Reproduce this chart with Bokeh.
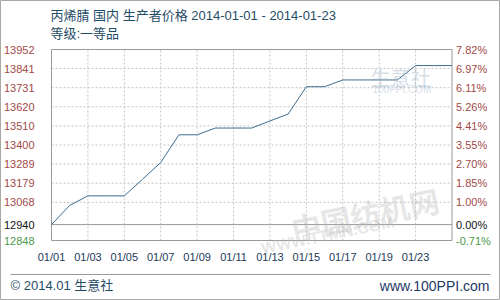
from bokeh.plotting import figure
from bokeh.models import (Range1d, FixedTicker, Label, LabelSet, LinearAxis,
                          ColumnDataSource, BoxAnnotation)
from bokeh.core.properties import value
from bokeh.embed import file_html
from bokeh.resources import INLINE

# ---------------- data ----------------
point_idx = list(range(23))
prices = [12940, 13051, 13106, 13106, 13106, 13202, 13299, 13459, 13459,
          13498, 13498, 13498, 13539, 13579, 13737, 13737, 13776, 13776,
          13776, 13776, 13859, 13859, 13859]

x_tick_pos = [0, 2, 4, 6, 8, 10, 12, 14, 16, 18, 20]
x_tick_labels = ["01/01", "01/03", "01/05", "01/07", "01/09", "01/11",
                 "01/13", "01/15", "01/17", "01/19", "01/23"]

y_tick_vals = [13952, 13841.6, 13731.2, 13620.8, 13510.4, 13400, 13289.6,
               13179.2, 13068.8, 12940, 12848]
y_tick_labels = ["13952", "13841", "13731", "13620", "13510", "13400",
                 "13289", "13179", "13068", "12940", "12848"]
pct_labels = ["7.82%", "6.97%", "6.11%", "5.26%", "4.41%", "3.55%", "2.70%",
              "1.85%", "1.00%", "0.00%", "-0.71%"]
base_price = 12940
x_first, x_last = 0, 22
y_low, y_high = 12848, 13952

title1 = "丙烯腈 国内 生产者价格 2014-01-01 - 2014-01-23"
title2 = "等级:一等品"
footer_left = "© 2014.01 生意社"
footer_right = "www.100PPI.com"

# ---------------- styles ----------------
RED = "#a24a48"
GREEN = "#4e9a4e"
BLACK = "#111111"
TEAL = "#1f4d66"
GRID = "#c4c4c4"
BORDER = "#9a9a9a"
FONT = "'Liberation Sans', 'Noto Sans CJK SC'"

# plot box in pixels: left 51, right 451.5, top 49, bottom 240 (canvas 500x300)
xs = (451.5 - 51) / (x_last - x_first)
ys = (240 - 49) / (y_high - y_low)
x_range = Range1d(x_first - 51 / xs, x_last + (500 - 451.5) / xs)
y_range = Range1d(y_low - 60 / ys, y_high + 49 / ys)

p = figure(width=500, height=300, output_backend="svg", toolbar_location=None,
           x_range=x_range, y_range=y_range, x_axis_location=None,
           y_axis_location=None, min_border=0)
p.background_fill_color = "white"
p.border_fill_color = "white"
p.outline_line_color = "#a8a8a8"
p.xgrid.visible = False
p.ygrid.visible = False

# watermarks
p.add_layout(Label(x=370, y=223, x_units="screen", y_units="screen",
                   text="生意社", text_font="Noto Sans CJK SC",
                   text_font_size="20px", text_color="#9fb4c8", text_alpha=0.45,
                   text_baseline="middle"))
p.add_layout(Label(x=372, y=211, x_units="screen", y_units="screen",
                   text="100PPI.COM", text_font="Liberation Sans",
                   text_font_size="10px", text_color="#9fb4c8", text_alpha=0.45,
                   text_baseline="middle"))
p.add_layout(Label(x=291, y=72, x_units="screen", y_units="screen",
                   text="中国纺机网", text_font="Noto Sans CJK SC",
                   text_font_size="30px", text_color="#b8b8b8", text_alpha=0.35,
                   text_font_style="bold", angle=0.2, text_baseline="middle"))
p.add_layout(Label(x=261, y=52, x_units="screen", y_units="screen",
                   text="WWW.TTMN.COM", text_font="Liberation Sans",
                   text_font_size="16px", text_color="#b8b8b8", text_alpha=0.35,
                   text_font_style="bold", angle=0.2, text_baseline="middle"))

# grid lines (dotted) inside the plot box
p.segment(x0=x_tick_pos[1:], x1=x_tick_pos[1:], y0=y_low, y1=y_high,
          line_color=GRID, line_dash="2 2", line_width=1)
p.segment(x0=x_first, x1=x_last, y0=y_tick_vals[1:9], y1=y_tick_vals[1:9],
          line_color=GRID, line_dash="2 2", line_width=1)
# baseline
p.segment(x0=[x_first], x1=[x_last], y0=[base_price], y1=[base_price],
          line_color=BORDER, line_width=1)
# plot box
p.quad(left=[x_first], right=[x_last], bottom=[y_low], top=[y_high],
       fill_color=None, line_color=BORDER, line_width=1)

# price line
src = ColumnDataSource(dict(x=point_idx, y=prices))
p.line("x", "y", source=src, line_color="#3e6d8c", line_width=1)

# x axis (dates) fixed at the bottom of the plot box
xa = LinearAxis(fixed_location=y_low, ticker=FixedTicker(ticks=x_tick_pos))
xa.major_label_overrides = {t: l for t, l in zip(x_tick_pos, x_tick_labels)}
xa.axis_line_color = None
xa.major_tick_line_color = None
xa.minor_tick_line_color = None
xa.major_tick_out = 0
xa.major_tick_in = 0
xa.minor_tick_out = 0
xa.major_label_standoff = 10
xa.major_label_text_font = FONT
xa.major_label_text_font_size = "11px"
xa.major_label_text_color = "#1d3a58"
p.add_layout(xa, "below")

# y tick labels (left: price, right: percent change)
label_colors = [RED] * 9 + [BLACK, GREEN]
lsrc = ColumnDataSource(dict(
    y=y_tick_vals, xl=[x_first] * len(y_tick_vals), xr=[x_last] * len(y_tick_vals),
    tl=y_tick_labels, tr=pct_labels, c=label_colors))
p.add_layout(LabelSet(x="xl", y="y", text="tl", source=lsrc, x_offset=-17,
                      text_color="c", text_font=value(FONT),
                      text_font_size="11px", text_baseline="middle",
                      text_align="right"))
p.add_layout(LabelSet(x="xr", y="y", text="tr", source=lsrc, x_offset=4,
                      text_color="c", text_font=value(FONT),
                      text_font_size="11px", text_baseline="middle",
                      text_align="left"))

# titles
p.add_layout(Label(x=50, y=285, x_units="screen", y_units="screen",
                   text=title1, text_font=FONT, text_font_size="13px",
                   text_color=TEAL, text_baseline="middle"))
p.add_layout(Label(x=50, y=267, x_units="screen", y_units="screen",
                   text=title2, text_font=FONT, text_font_size="13px",
                   text_color=TEAL, text_baseline="middle"))

# footer
p.add_layout(BoxAnnotation(left=10, right=490, bottom=25.5, top=26.5,
                           left_units="screen", right_units="screen",
                           bottom_units="screen", top_units="screen",
                           fill_color=BORDER, fill_alpha=1, line_color=None))
p.add_layout(Label(x=10, y=15, x_units="screen", y_units="screen",
                   text=footer_left, text_font=FONT, text_font_size="13px",
                   text_color=TEAL, text_baseline="middle"))
p.add_layout(Label(x=489, y=15, x_units="screen", y_units="screen",
                   text=footer_right, text_font=FONT, text_font_size="14px",
                   text_color="#1d3a68", text_baseline="middle", text_align="right"))

open("out.html", "w").write(file_html(p, INLINE))
